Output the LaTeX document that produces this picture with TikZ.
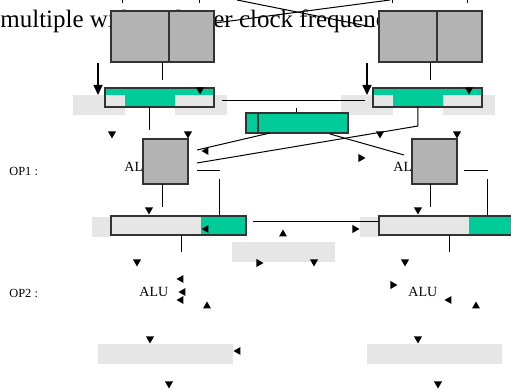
\documentclass[tikz,border=0pt]{standalone}
\usepackage{fontspec}
\setmainfont{Liberation Serif}
\usetikzlibrary{arrows.meta,positioning}

\definecolor{regGreen}{RGB}{0,204,153}
\definecolor{aluGray}{RGB}{179,179,179}
\definecolor{padGray}{RGB}{230,230,230}
\definecolor{edgeGray}{RGB}{51,51,51}

\tikzset{
  px/.style 2 args={minimum width=#1*0.5pt, minimum height=#2*0.5pt,
    inner sep=0pt, outer sep=0pt, anchor=north west},
  alubox/.style={fill=aluGray, draw=edgeGray, line width=0.6pt},
  greenbox/.style={fill=regGreen, draw=edgeGray, line width=0.6pt},
  regfill/.style={fill=regGreen},
  regedge/.style={draw=edgeGray, line width=0.6pt},
  pad/.style={fill=padGray},
  wire/.style={line width=0.5pt},
  bigarrow/.style={line width=0.75pt, -{Triangle[width=4.5pt, length=5pt]}},
  oplabel/.style={anchor=west, inner sep=0pt, font=\fontsize{6.2}{7}\selectfont},
  alulabel/.style={anchor=west, inner sep=0pt, font=\fontsize{7}{8}\selectfont},
  tdn/.pic={\fill (-4,-3.5) -- (4,-3.5) -- (0,3.5) -- cycle;},
  tup/.pic={\fill (-4,3.5) -- (4,3.5) -- (0,-3.5) -- cycle;},
  tlt/.pic={\fill (3.5,-4) -- (3.5,4) -- (-3.5,0) -- cycle;},
  trt/.pic={\fill (-3.5,-4) -- (-3.5,4) -- (3.5,0) -- cycle;}
}

\begin{document}
\begin{tikzpicture}[x=0.5pt, y=-0.5pt]
\useasboundingbox (0,0) rectangle (511,390);

\node [anchor=base west, inner sep=0pt, font=\fontsize{12.5}{14}\selectfont] (headA) at (0,28) {multiple with};
\node [anchor=base west, inner sep=0pt, font=\fontsize{12.5}{14}\selectfont] (headB) at (175.5,28) {lower clock frequency};

\draw [wire] (237,0) -- (372,27);
\draw [wire] (215,23) -- (390,0);
\foreach \x in {123,200,393,468}
  \draw [wire] (\x,0) -- (\x,3);

\node [alubox, px={103}{51}] (srcL) at (111,11) {};
\node [alubox, px={103}{51}] (srcR) at (379,11) {};
\draw [regedge] (169,11) -- (169,62);
\draw [regedge] (437,11) -- (437,62);
\draw [wire] (163,62) -- (163,80);
\draw [wire] (431,62) -- (431,80);

\draw [bigarrow] (98,63) -- (98,95);
\draw [bigarrow] (367,63) -- (367,95);

% upper registers
\node [regfill, px={109}{19}] (regL) at (105,88) {};
\node [regfill, px={109}{19}] (regR) at (373,88) {};
\node [pad, px={52}{20}] (padA) at (73,95) {};
\node [pad, px={52}{20}] (padB) at (175,95) {};
\node [pad, px={52}{20}] (padC) at (341,95) {};
\node [pad, px={52}{20}] (padD) at (443,95) {};
\draw [regedge] (regL.north west) rectangle (regL.south east);
\draw [regedge] (regR.north west) rectangle (regR.south east);

\draw [wire] (222,101) -- (365,101);
\draw [wire] (297,108) -- (297,113);
\node [greenbox, px={102}{20}] (midReg) at (246,113) {};
\draw [regedge] (258,113) -- (258,133);

\draw [wire] (150,107) -- (150,130);
\draw [wire] (418,107) -- (418,126) -- (197,163);
\draw [wire] (270,133) -- (197,150);
\draw [wire] (330,134) -- (404,155);

% OP1
\node [oplabel] (op1) at (9,171) {OP1 :};
\node [alulabel] (aluA) at (124,167) {ALU};
\node [alulabel] (aluB) at (393,167) {ALU};
\node [alubox, px={45}{45}] (aluL) at (143,139) {};
\node [alubox, px={45}{45}] (aluR) at (412,139) {};

\draw [wire] (197,171) -- (220,171);
\draw [wire] (220,179) -- (220,216);
\draw [wire] (464,171) -- (488,171);
\draw [wire] (488,179) -- (488,216);
\draw [wire] (163,184) -- (163,207);
\draw [wire] (431,184) -- (431,207);

% lower registers
\node [pad, px={19}{20}] (padE) at (92,217) {};
\node [pad, px={19}{20}] (padF) at (360,217) {};
\node [pad, px={135}{19}] (outL) at (111,216) {};
\node [regfill, px={45}{19}] at (201,216) {};
\node [pad, px={140}{19}] (outR) at (379,216) {};
\node [regfill, px={60}{19}] at (469,216) {};
\draw [regedge] (outL.north west) rectangle (outL.south east);
\draw [regedge] (outR.north east) -- (outR.north west) -- (outR.south west) -- (outR.south east);

\draw [wire] (253,222) -- (379,222);
\node [pad, px={103}{20}] (padG) at (232,242) {};
\draw [wire] (182,235) -- (182,252);
\draw [wire] (450,235) -- (450,252);

% OP2
\node [oplabel] (op2) at (9,293) {OP2 :};
\node [alulabel] (aluC) at (139,292) {ALU};
\node [alulabel] (aluD) at (408,292) {ALU};

\node [pad, px={135}{20}] (padH) at (98,344) {};
\node [pad, px={135}{20}] (padI) at (367,344) {};

\foreach \x/\y in {200/91, 469/91, 112/135, 188/135, 380/135, 457/135,
    149/211, 418/211, 314/263, 137/263, 405/263, 150/340, 418/340,
    169/385, 438/385}
  \pic at (\x,\y) {tdn};
\foreach \x/\y in {283/233, 207/305, 476/305}
  \pic at (\x,\y) {tup};
\foreach \x/\y in {205/151, 205/229, 180/279, 182/292, 180/300, 448/300, 237/351}
  \pic at (\x,\y) {tlt};
\foreach \x/\y in {362/158, 356/229, 260/263, 394/285}
  \pic at (\x,\y) {trt};
\end{tikzpicture}
\end{document}
